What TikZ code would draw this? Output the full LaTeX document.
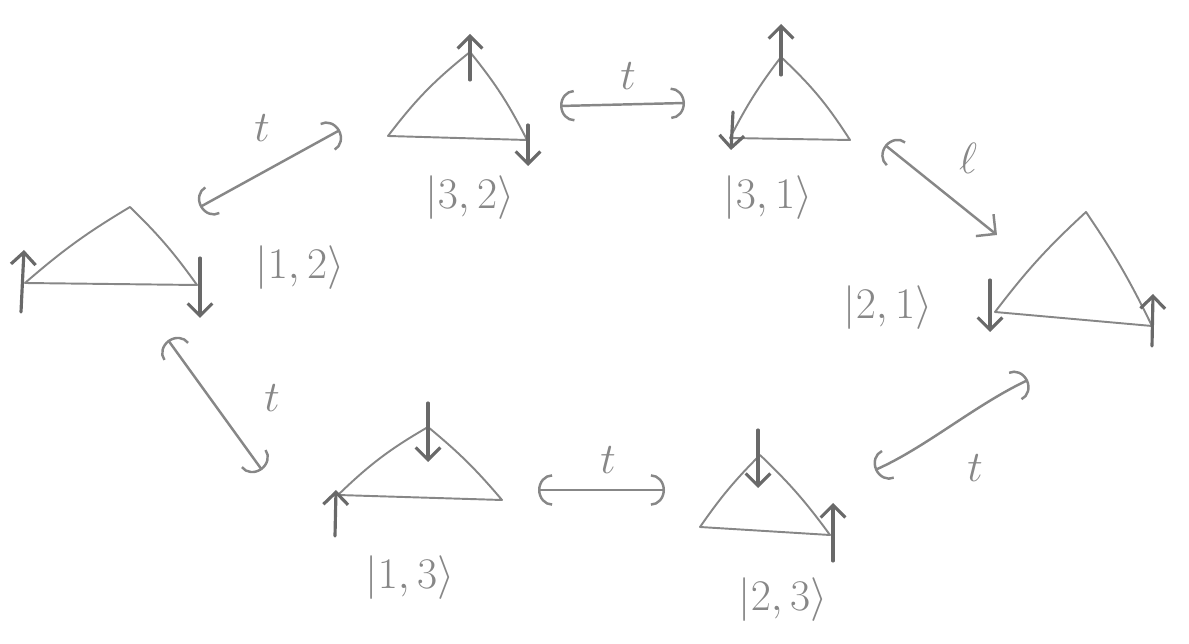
\documentclass[tikz,border=0pt]{standalone}
\usetikzlibrary{arrows.meta}

\definecolor{pencil}{RGB}{135,135,135}
\definecolor{lead}{RGB}{105,105,105}

\tikzset{
  tri/.style={draw=pencil, line width=1.1pt, line join=round},
  spin/.style={draw=lead, line width=1.8pt, line cap=round, -{Straight Barb[length=7pt,width=14pt]}},
  hop/.style={draw=pencil, line width=1.4pt, line cap=round,
    {Arc Barb[length=8pt,width=18pt]}-{Arc Barb[length=8pt,width=18pt]}},
  hopv/.style={hop, {Arc Barb[length=8pt,width=18pt]}-{Straight Barb[length=8pt,width=16pt]}},
  ket/.style={text=pencil, font=\fontsize{28}{32}\selectfont},
  amp/.style={text=pencil, font=\fontsize{26}{30}\selectfont},
}

\begin{document}
\begin{tikzpicture}[x=0.02cm, y=-0.02cm]
  \useasboundingbox (0,0) rectangle (1189,644);

  % -- |1,2> (left) --
  \draw[tri] (25,283) to[bend left=5] (130,207) to[bend left=5] (197,285) -- cycle;
  \draw[spin] (21,312) -- (24,250);
  \draw[spin] (200,258) -- (200,318);
  \node[ket] (k12) at (300,268) {$|1,2\rangle$};

  % -- |3,2> (top) --
  \draw[tri] (388,136) to[bend left=7] (470,52) to[bend left=6] (527,140) -- cycle;
  \draw[spin] (470,80) -- (470,34);
  \draw[spin] (528,125) -- (528,166);
  \node[ket] (k32) at (470,198) {$|3,2\rangle$};

  % -- |3,1> (top) --
  \draw[tri] (730,138) to[bend left=5] (781,57) to[bend left=7] (850,140) -- cycle;
  \draw[spin] (781,75) -- (781,24);
  \draw[spin] (733,112) -- (731,150);
  \node[ket] (k31) at (768,198) {$|3,1\rangle$};

  % -- |2,1> (right) --
  \draw[tri] (995,312) to[bend left=5] (1086,212) to[bend left=4] (1152,326) -- cycle;
  \draw[spin] (990,280) -- (990,332);
  \draw[spin] (1152,346) -- (1153,294);
  \node[ket] (k21) at (888,308) {$|2,1\rangle$};

  % -- |1,3> (bottom) --
  \draw[tri] (338,495) to[bend left=7] (428,427) to[bend left=5] (502,500) -- cycle;
  \draw[spin] (335,536) -- (336,490);
  \draw[spin] (428,403) -- (428,462);
  \node[ket] (k13) at (410,578) {$|1,3\rangle$};

  % -- |2,3> (bottom) --
  \draw[tri] (700,527) to[bend left=5] (760,455) to[bend left=5] (830,535) -- cycle;
  \draw[spin] (758,430) -- (758,488);
  \draw[spin] (833,561) -- (833,503);
  \node[ket] (k23) at (783,600) {$|2,3\rangle$};

  % -- hopping --
  \coordinate (h1a) at (200,207); \coordinate (h1b) at (340,130);
  \coordinate (h2a) at (560,106); \coordinate (h2b) at (685,103);
  \coordinate (h3a) at (885,145); \coordinate (h3b) at (997,235);
  \coordinate (h4a) at (168,340); \coordinate (h4b) at (262,470);
  \coordinate (h5a) at (538,490); \coordinate (h5b) at (665,490);
  \coordinate (h6a) at (875,470); \coordinate (h6b) at (1028,380);
  \draw[hop] (h1a) -- (h1b);
  \draw[hop] (h2a) -- (h2b);
  \draw[hopv] (h3a) -- (h3b);
  \draw[hop] (h4a) -- (h4b);
  \draw[hop] (h5a) -- (h5b);
  \draw[hop] (h6a) .. controls (925,448) and (975,405) .. (h6b);

  \node[amp] (t1) at (262,128) {$t$};
  \node[amp] (t2) at (628,76) {$t$};
  \node[amp] (t3) at (968,158) {$\ell$};
  \node[amp] (t4) at (272,398) {$t$};
  \node[amp] (t5) at (608,460) {$t$};
  \node[amp] (t6) at (975,468) {$t$};

\end{tikzpicture}
\end{document}
